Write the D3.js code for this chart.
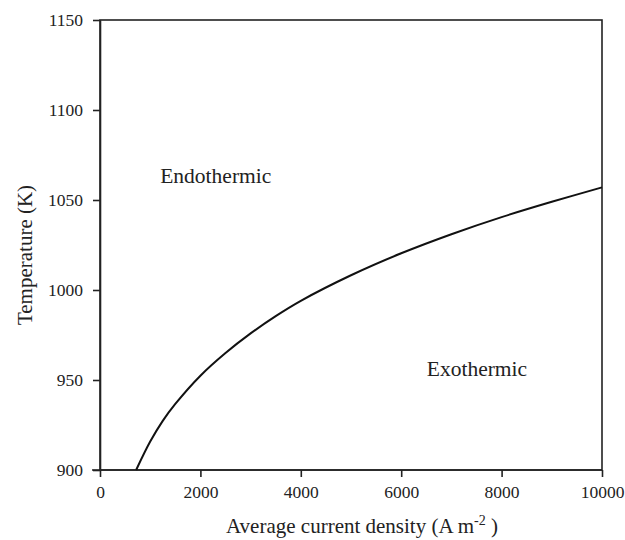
<!DOCTYPE html>
<html lang="en">
<head>
<meta charset="UTF-8">
<title>Temperature vs current density</title>
<style>
  body { margin: 0; background: #fff; }
  svg text { font-family: "Liberation Serif", "Times New Roman", serif; fill: #222; }
  .axis path, .axis line { stroke: #222; stroke-width: 1.6; }
</style>
<script src="https://d3js.org/d3.v7.min.js"></script>
</head>
<body>
<svg id="chart" width="625" height="540"></svg>
<script>
// values
var currentDensity = [720, 1000, 1250, 1500, 2000, 2500, 3000, 3500, 4000, 5000, 6000, 7000, 8000, 9000, 10000];
var temperature    = [900, 915.8, 927.3, 936.7, 952.4, 965, 975.9, 985.5, 994, 1008.2, 1020.4, 1031, 1040.5, 1049, 1057];
var xTicks = [0, 2000, 4000, 6000, 8000, 10000];
var yTicks = [900, 950, 1000, 1050, 1100, 1150];
var regionLabels = ["Endothermic", "Exothermic"];

var svg = d3.select("#chart");
var plotL = 100, plotR = 602, plotT = 20, plotB = 470;

var x = d3.scaleLinear().domain([0, 10000]).range([plotL, plotR]);
var y = d3.scaleLinear().domain([900, 1150]).range([plotB, plotT]);

// frame (top + right edges)
svg.append("rect")
    .attr("x", plotL).attr("y", plotT)
    .attr("width", plotR - plotL).attr("height", plotB - plotT)
    .attr("fill", "none").attr("stroke", "#222").attr("stroke-width", 1.6);

var xAxis = svg.append("g").attr("class", "axis")
    .attr("transform", "translate(0," + plotB + ")")
    .call(d3.axisBottom(x).tickValues(xTicks).tickSize(7).tickSizeOuter(0).tickFormat(d3.format("d")));
xAxis.selectAll("text").attr("font-size", 17.5).attr("dy", "1.05em");
xAxis.select(".domain").attr("d", "M" + (plotL - 8) + ",0H" + plotR);

var yAxis = svg.append("g").attr("class", "axis")
    .attr("transform", "translate(" + plotL + ",0)")
    .call(d3.axisLeft(y).tickValues(yTicks).tickSize(7).tickSizeOuter(0).tickFormat(d3.format("d")));
yAxis.selectAll("text").attr("font-size", 17.5).attr("x", -17);

// curve
var pts = currentDensity.map(function (d, i) { return [d, temperature[i]]; });
svg.append("path")
    .datum(pts)
    .attr("fill", "none")
    .attr("stroke", "#111")
    .attr("stroke-width", 2)
    .attr("d", d3.line()
        .x(function (d) { return x(d[0]); })
        .y(function (d) { return y(d[1]); })
        .curve(d3.curveCatmullRom.alpha(0.5)));

// region labels
svg.append("text").attr("x", x(1200)).attr("y", y(1059.5)).attr("font-size", 21.5).text(regionLabels[0]);
svg.append("text").attr("x", x(6510)).attr("y", y(952.5)).attr("font-size", 21.5).text(regionLabels[1]);

// axis titles
var xt = svg.append("text")
    .attr("x", 362).attr("y", 533)
    .attr("text-anchor", "middle").attr("font-size", 21);
xt.append("tspan").text("Average current density (A m");
xt.append("tspan").attr("dy", -8).attr("font-size", 14).text("-2");
xt.append("tspan").attr("dy", 8).text(" )");

svg.append("text")
    .attr("transform", "translate(32," + 255 + ") rotate(-90)")
    .attr("text-anchor", "middle").attr("font-size", 21)
    .text("Temperature (K)");
</script>
</body>
</html>
